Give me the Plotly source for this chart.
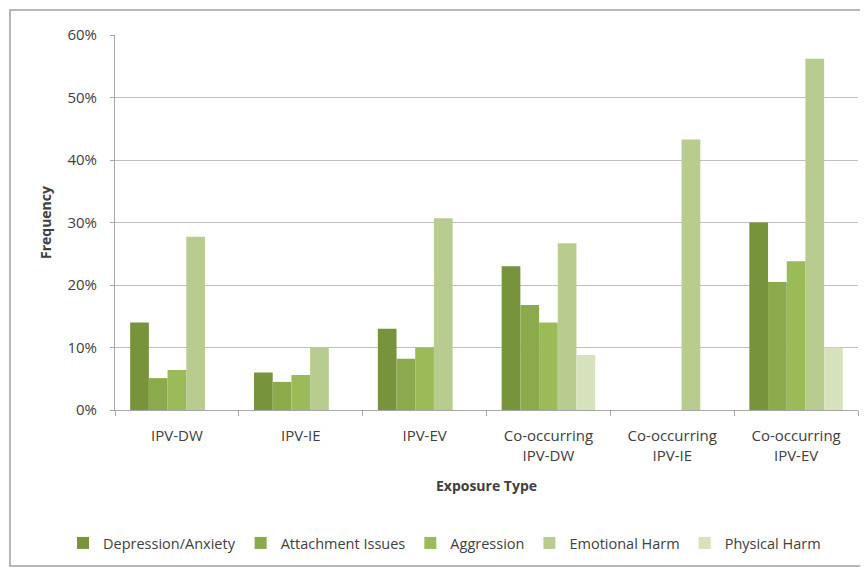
import plotly.graph_objects as go

categories = ["IPV-DW", "IPV-IE", "IPV-EV", "Co-occurring<br>IPV-DW", "Co-occurring<br>IPV-IE", "Co-occurring<br>IPV-EV"]
series_names = ["Depression/Anxiety", "Attachment Issues", "Aggression", "Emotional Harm", "Physical Harm"]
depression = [0.14, 0.06, 0.13, 0.23, 0.0, 0.30]
attachment = [0.051, 0.045, 0.082, 0.168, 0.0, 0.205]
aggression = [0.064, 0.056, 0.10, 0.14, 0.0, 0.238]
emotional = [0.277, 0.10, 0.307, 0.267, 0.433, 0.562]
physical = [0.0, 0.0, 0.0, 0.088, 0.0, 0.10]
y_ticks = [0, 0.1, 0.2, 0.3, 0.4, 0.5, 0.6]
y_tick_labels = ["0%", "10%", "20%", "30%", "40%", "50%", "60%"]

colors = ["#77933C", "#8AAA4C", "#9BBB59", "#B7CC8E", "#D5E2BC"]
values = [depression, attachment, aggression, emotional, physical]

fig = go.Figure()
for name, vals, c in zip(series_names, values, colors):
    fig.add_trace(go.Bar(x=categories, y=vals, name=name, marker=dict(color=c, line=dict(width=0))))

font_family = "Open Sans, Liberation Sans, sans-serif"
txt = "#404040"
W, H = 868, 567
l, r, t, b = 107, 18, 27, 165
pw, ph = W - l - r, H - t - b

def px_x(p):
    return (p - l) / pw

def px_y(p):
    return (H - b - p) / ph

fig.update_layout(
    width=W, height=H,
    margin=dict(l=l, r=r, t=t, b=b, autoexpand=False),
    paper_bgcolor="white", plot_bgcolor="white",
    barmode="group", bargap=0.245, bargroupgap=0,
    font=dict(family=font_family, size=15, color=txt),
    showlegend=True,
    legend=dict(orientation="h", x=px_x(55), xanchor="left", y=px_y(535), yanchor="middle",
                font=dict(size=14.5, color=txt), traceorder="normal", itemwidth=30),
    xaxis=dict(
        showline=True, linecolor="#A6A6A6", linewidth=1,
        ticks="outside", tickson="boundaries", ticklen=5, tickcolor="#A6A6A6",
        tickfont=dict(size=15, color=txt), ticklabelstandoff=12,
        title=dict(text="<b>Exposure Type</b>", font=dict(size=14, color=txt), standoff=17),
        showgrid=False,
    ),
    yaxis=dict(
        range=[0, 0.6], tickvals=y_ticks, ticktext=y_tick_labels,
        showline=True, linecolor="#A6A6A6", linewidth=1,
        ticks="outside", ticklen=4, tickcolor="#A6A6A6", ticklabelstandoff=10,
        showgrid=True, gridcolor="#BFBFBF", gridwidth=1,
        tickfont=dict(size=15, color=txt),
        title=dict(text="<b>Frequency</b>", font=dict(size=14, color=txt), standoff=12),
        zeroline=False,
    ),
    shapes=[dict(type="rect", xref="paper", yref="paper",
                 x0=px_x(2), x1=px_x(880), y0=px_y(558), y1=px_y(2),
                 line=dict(color="#A0A0A0", width=1.5), fillcolor="rgba(0,0,0,0)", layer="below")],
)

fig.write_html("out.html")
